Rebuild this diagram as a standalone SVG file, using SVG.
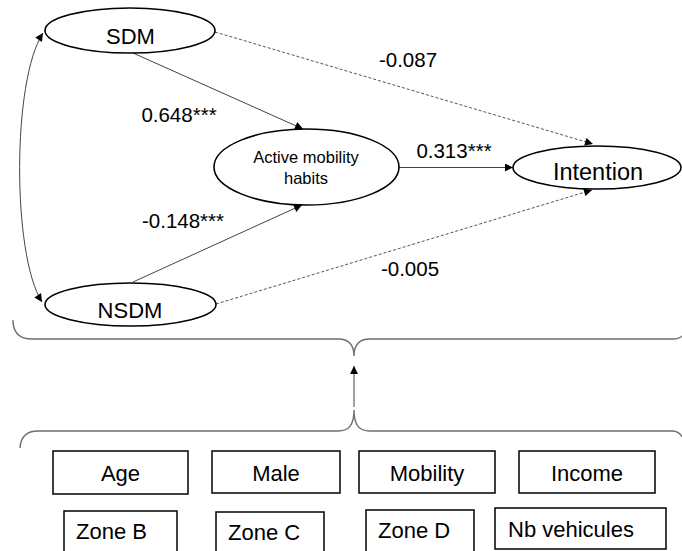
<svg xmlns="http://www.w3.org/2000/svg" width="682" height="551" viewBox="0 0 682 551">
<defs>
<style>
text{font-family:"Liberation Sans",Arial,sans-serif;fill:#000}
.node ellipse{fill:#fff;stroke:#000;stroke-width:1.6}
.box rect{fill:#fff;stroke:#000;stroke-width:1.5}
.solid{fill:none;stroke:#444;stroke-width:1}
.dash{fill:none;stroke:#555;stroke-width:1;stroke-dasharray:3,2}
.brace{fill:none;stroke:#6e6e6e;stroke-width:1.4}
.lbl{font-size:20.5px;text-anchor:middle}
.big{font-size:22px;text-anchor:middle}
.bx{font-size:22px}
.mid{text-anchor:middle}
.amh{font-size:16.5px;text-anchor:middle}
</style>
<marker id="arr" viewBox="0 0 10 10" refX="10" refY="5" markerWidth="9" markerHeight="8" markerUnits="userSpaceOnUse" orient="auto-start-reverse">
<path d="M0,0 L10,5 L0,10 z" fill="#000"/>
</marker>
</defs>
<rect width="682" height="551" fill="#fff"/>

<g id="connectors">
<path class="solid" d="M43,33 C12,80 12,255 42,302" marker-start="url(#arr)" marker-end="url(#arr)"/>
<line class="solid" x1="133" y1="53" x2="303" y2="129" marker-end="url(#arr)"/>
<line class="solid" x1="133" y1="282" x2="302" y2="205" marker-end="url(#arr)"/>
<line class="solid" x1="399" y1="167.5" x2="513" y2="167.5" marker-end="url(#arr)"/>
<line class="dash" x1="215" y1="32" x2="593" y2="144" marker-end="url(#arr)"/>
<line class="dash" x1="216" y1="304" x2="592" y2="190" marker-end="url(#arr)"/>
<line class="solid" x1="354" y1="407" x2="354" y2="366" marker-end="url(#arr)"/>
</g>

<g id="labels">
<text class="lbl" x="408" y="67">-0.087</text>
<text class="lbl" x="179" y="122">0.648***</text>
<text class="lbl" x="454" y="158">0.313***</text>
<text class="lbl" x="183" y="228">-0.148***</text>
<text class="lbl" x="410" y="276">-0.005</text>
</g>

<g id="braces">
<path class="brace" d="M13,320 Q13,339 32,339 L338,339 C349,339 354,345 354,356 C354,345 359,339 370,339 L674,339 Q680,339 684,334"/>
<path class="brace" d="M20,448 Q21,431 38,431 L338,431 C349,431 354,425 354,410 C354,425 359,431 370,431 L672,431 Q680,431 684,440"/>
</g>

<g id="SDM" class="node">
<ellipse cx="130" cy="30.5" rx="85" ry="22.5"/>
<text class="big" x="130.5" y="44">SDM</text>
</g>
<g id="NSDM" class="node">
<ellipse cx="130.5" cy="304.5" rx="85.5" ry="21.5"/>
<text class="big" x="130" y="318">NSDM</text>
</g>
<g id="AMH" class="node">
<ellipse cx="306.5" cy="167" rx="92.5" ry="38"/>
<text class="amh" x="306" y="163">Active mobility</text>
<text class="amh" x="306" y="183.5">habits</text>
</g>
<g id="Intention" class="node">
<ellipse cx="597" cy="167.5" rx="84" ry="21.5"/>
<text class="big" x="598" y="180" style="font-size:23.5px">Intention</text>
</g>

<g id="Age" class="box"><rect x="53" y="451" width="135" height="43"/><text class="bx mid" x="120.5" y="481">Age</text></g>
<g id="Male" class="box"><rect x="212" y="451" width="128" height="42"/><text class="bx mid" x="276" y="481">Male</text></g>
<g id="Mobility" class="box"><rect x="359" y="451" width="136" height="42"/><text class="bx mid" x="427" y="481">Mobility</text></g>
<g id="Income" class="box"><rect x="519" y="451" width="136" height="42"/><text class="bx mid" x="587" y="481">Income</text></g>
<g id="ZoneB" class="box"><rect x="64" y="511" width="113" height="46"/><text class="bx" x="76" y="539">Zone B</text></g>
<g id="ZoneC" class="box"><rect x="216" y="512" width="108" height="46"/><text class="bx" x="228" y="540">Zone C</text></g>
<g id="ZoneD" class="box"><rect x="366" y="510" width="108" height="46"/><text class="bx" x="378" y="538">Zone D</text></g>
<g id="Nb" class="box"><rect x="495" y="508" width="171" height="41"/><text class="bx" x="508" y="537">Nb vehicules</text></g>
</svg>
